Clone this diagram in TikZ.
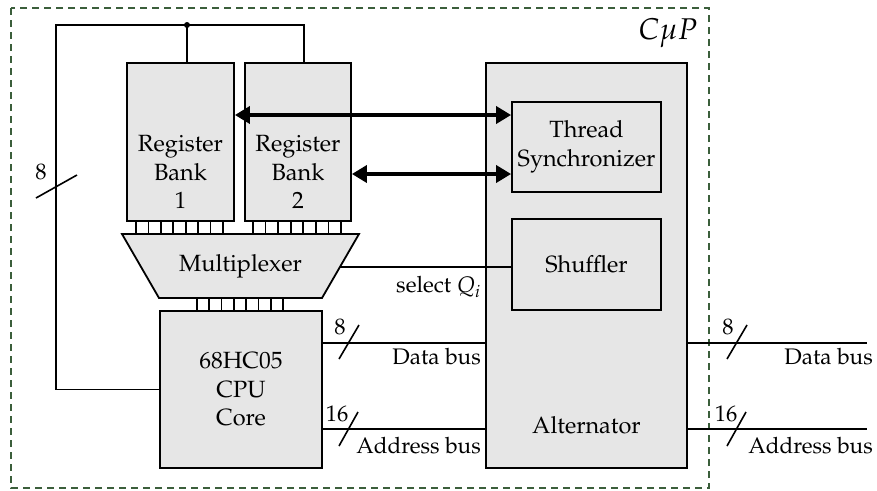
\documentclass[tikz,border=0pt]{standalone}
\usepackage[T1]{fontenc}
\usepackage{mathpazo}
\usetikzlibrary{arrows.meta,calc}
\definecolor{boxgray}{HTML}{E6E6E6}
\definecolor{dashgreen}{HTML}{3B5E3B}
\tikzset{
  blk/.style={draw=black, line width=1.8pt, fill=boxgray, inner sep=0pt, align=center,
    font=\fontsize{23.5}{28.5}\selectfont},
  wire/.style={draw=black, line width=1.6pt},
  bus/.style={draw=black, line width=3.6pt, {Triangle[length=15pt,width=17pt]}-{Triangle[length=15pt,width=17pt]}},
  lbl/.style={inner sep=0pt, align=center, font=\fontsize{22.5}{27}\selectfont},
  big/.style={inner sep=0pt, align=center, font=\fontsize{23.5}{28.5}\selectfont},
  pin/.style={draw=black, line width=1.6pt}
}
\begin{document}
\begin{tikzpicture}[x=1pt,y=-1pt]
\useasboundingbox (0,0) rectangle (877,490);
% outer dashed frame
\draw[dashgreen, line width=1.8pt, dash pattern=on 7pt off 5pt] (11,8) rectangle (709,488);
\node[lbl, font=\fontsize{30}{34}\selectfont] (cup) at (668,33) {$C\mu P$};

% blocks
\node[blk, minimum width=201pt, minimum height=405pt] (alt) at (586.5,265.5) {};
\node[big] (altlbl) at (586.5,425) {Alternator};
\node[blk, minimum width=149pt, minimum height=90pt] (ts) at (586.5,147) {Thread\\Synchronizer};
\node[blk, minimum width=149pt, minimum height=91pt] (sh) at (586.5,264.5) {Shuffler};
\node[blk, minimum width=107pt, minimum height=158pt] (rb1) at (180.5,142) {};
\node[blk, minimum width=106pt, minimum height=158pt] (rb2) at (298,142) {};
\node[blk, minimum width=162pt, minimum height=157pt] (cpu) at (241,389.5) {68HC05\\CPU\\Core};

% multiplexer trapezoid
\coordinate (mtl) at (122,234);
\coordinate (mtr) at (359,234);
\coordinate (mbr) at (322,298);
\coordinate (mbl) at (159,298);
\draw[line width=1.8pt, fill=boxgray, line join=miter] (mtl) -- (mtr) -- (mbr) -- (mbl) -- cycle;
\node[big] (mux) at (240.5,266) {Multiplexer};
\coordinate (muxr) at ($(mtr)!0.516!(mbr)$);

% pins
\foreach \i in {0,...,7} {
  \draw[pin] (136+\i*12.43,221) -- (136+\i*12.43,234);
  \draw[pin] (253+\i*12.57,221) -- (253+\i*12.57,234);
  \draw[pin] (197+\i*12.29,298) -- (197+\i*12.29,311);
}

% feedback wiring
\coordinate (tl) at (56,25);
\coordinate (tr) at (304,25);
\coordinate (dot) at (187,25);
\draw[wire] (cpu.west) -| (tl) -- (tr) -- (rb2.north -| tr);
\draw[wire] (dot) -- (rb1.north -| dot);
\fill (dot) circle (3pt);
\draw[wire] (36,198) -- (77,175);
\node[lbl] (w8) at (41,172) {8};

% bidirectional arrows
\draw[bus] (rb1.east |- 0,115) -- (ts.west |- 0,115);
\draw[bus] (rb2.east |- 0,174) -- (ts.west |- 0,174);

% register bank labels (drawn after arrows, below them)
\node[big] (rb1lbl) at (180.5,172) {Register\\Bank\\1};
\node[big] (rb2lbl) at (298,172) {Register\\Bank\\2};

% select line
\draw[wire] (muxr) -- (sh.west |- muxr);
\node[lbl, anchor=east] (sel) at (481,287) {select $Q_i$};

% inner buses
\draw[wire] (cpu.east |- 0,343) -- (alt.west |- 0,343);
\draw[wire] (339,359) -- (359,325);
\node[lbl] (d8) at (340,327) {8};
\node[lbl, anchor=east] (dbl) at (481,357) {Data bus};
\draw[wire] (cpu.east |- 0,429) -- (alt.west |- 0,429);
\draw[wire] (339,446) -- (358,412);
\node[lbl] (a16) at (337,414) {16};
\node[lbl, anchor=east] (abl) at (481,446) {Address bus};

% outer buses
\coordinate (dend) at (867,343);
\coordinate (aend) at (867,429);
\draw[wire] (alt.east |- dend) -- (dend);
\draw[wire] (727,359) -- (747,325);
\node[lbl] (d8r) at (728,327) {8};
\node[lbl, anchor=east] (dblr) at (873,357) {Data bus};
\draw[wire] (alt.east |- aend) -- (aend);
\draw[wire] (727,446) -- (746,412);
\node[lbl] (a16r) at (726,414) {16};
\node[lbl, anchor=east] (ablr) at (873,446) {Address bus};
\end{tikzpicture}
\end{document}
